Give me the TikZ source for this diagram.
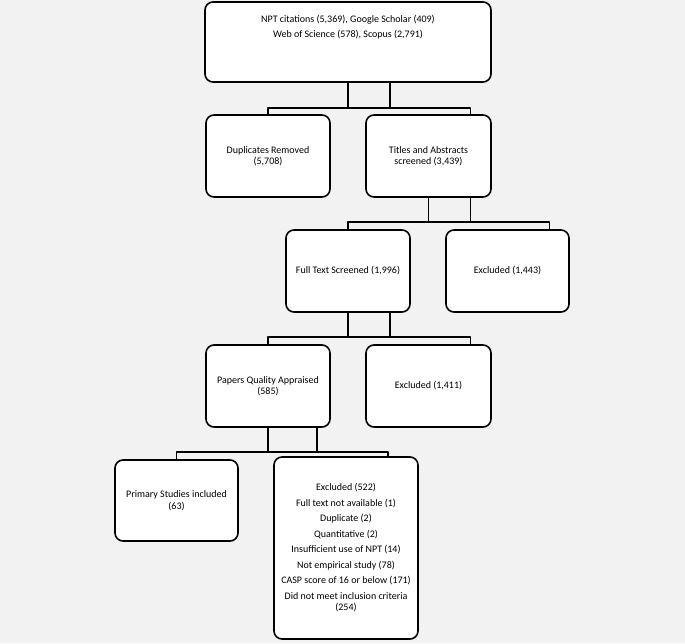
\documentclass[tikz,border=0pt]{standalone}
\usepackage{fontspec}
\setmainfont{Carlito}
\begin{document}
\begin{tikzpicture}[x=1pt, y=-1pt, font=\fontsize{10}{11.5}\selectfont, line join=round, line cap=round]
\tikzset{
  box/.style={draw, line width=1.6pt, rounded corners=8pt, fill=white, align=center, inner sep=2pt},
  link/.style={line width=1.6pt}
}
% Nền xám
\fill[black!5] (0,0) rectangle (685,643);
\useasboundingbox (0,0) rectangle (685,643);
% Các hộp
\node[box, minimum width=286, minimum height=80] (top) at (348,42)
  {NPT citations (5,369), Google Scholar (409)\\[3.5pt]Web of Science (578), Scopus (2,791)\\[19pt]\mbox{}};
\node[box, minimum width=124, minimum height=82] (dup) at (268,156) {Duplicates Removed\\(5,708)};
\node[box, minimum width=125, minimum height=82] (tas) at (428.5,156) {Titles and Abstracts\\screened (3,439)};
\node[box, minimum width=124, minimum height=82] (fts) at (348,271) {Full Text Screened (1,996)};
\node[box, minimum width=123, minimum height=82] (exca) at (507.5,271) {Excluded (1,443)};
\node[box, minimum width=124, minimum height=82] (pqa) at (268,386) {Papers Quality Appraised\\(585)};
\node[box, minimum width=125, minimum height=82] (excb) at (428.5,386) {Excluded (1,411)};
\node[box, minimum width=123, minimum height=81] (psi) at (176.5,500.5) {Primary Studies included\\(63)};
\node[box, minimum width=144, minimum height=182] (excc) at (346,548)
  {Excluded (522)\\[4pt]Full text not available (1)\\[4pt]Duplicate (2)\\[4pt]Quantitative (2)\\[4pt]%
   Insufficient use of NPT (14)\\[4pt]Not empirical study (78)\\[4pt]CASP score of 16 or below (171)\\[4pt]%
   Did not meet inclusion criteria\\(254)};
% Các đường nối
\foreach \from/\lft/\rgt/\bus/\off in {top/dup/tas/108/42, tas/fts/exca/222/42, fts/pqa/excb/337/42, pqa/psi/excc/452/49}{
  \coordinate (bus) at (0,\bus);
  \path ([xshift=\off]\from.south) coordinate (p2) ([xshift=42]\rgt.north) coordinate (c2);
  \draw[link] (\from.south) -- (\from.south |- bus);
  \draw[link] (p2) -- (p2 |- bus);
  \draw[link] (\lft.north) |- (c2 |- bus) -- (c2);
}
\end{tikzpicture}
\end{document}
